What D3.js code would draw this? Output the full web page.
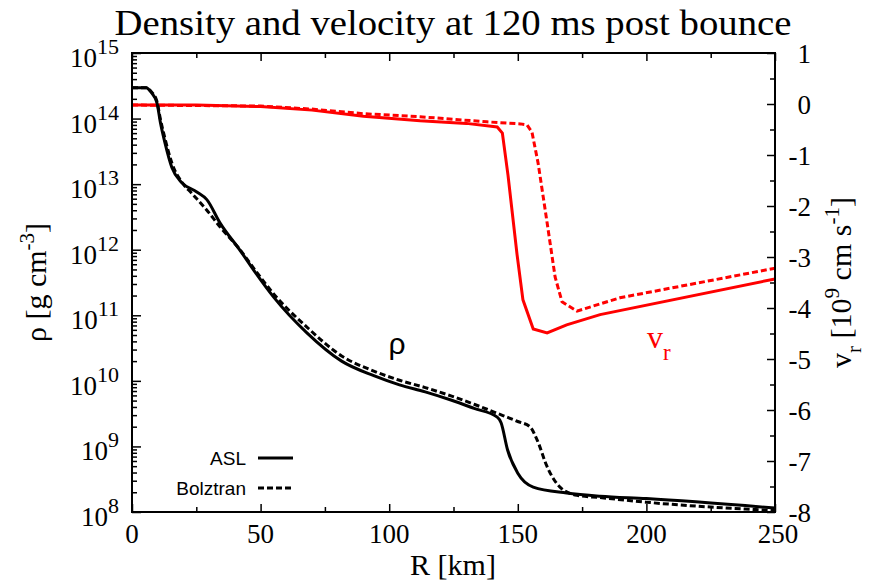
<!DOCTYPE html>
<html>
<head>
<meta charset="utf-8">
<script src="https://cdn.jsdelivr.net/npm/d3@7"></script>
<style>
  body { margin: 0; background: #fff; }
  svg { display: block; }
</style>
</head>
<body>
<div id="chart"></div>
<script>
// values
const xMajorTicks = [0, 50, 100, 150, 200, 250];
const xMinorTicks = [25, 75, 125, 175, 225];
const rhoExponents = [8, 9, 10, 11, 12, 13, 14, 15];
const velTicks = [-8, -7, -6, -5, -4, -3, -2, -1, 0, 1];

// density, ASL (solid)
const aslRhoR = [0, 5.5, 7.5, 9.7, 11, 12.8, 15.5, 19.4, 25.2, 29.1, 34.2, 42, 48, 55, 68, 81.5, 94, 104, 114, 124, 133, 142, 143.5, 146, 150, 156, 169, 182, 200, 250];
const aslRho = [2.95e14, 2.95e14, 2.5e14, 1.74e14, 8.9e13, 4.3e13, 1.8e13, 1.05e13, 7.6e12, 5.8e12, 2.57e12, 9.8e11, 4.47e11, 1.91e11, 5.4e10, 2.0e10, 1.2e10, 8.7e9, 6.8e9, 5.1e9, 3.8e9, 2.8e9, 2.3e9, 8.9e8, 3.9e8, 2.4e8, 1.95e8, 1.74e8, 1.6e8, 1.15e8];

// density, Bolztran (dashed)
const boltRhoR = [0, 5.5, 7.5, 9.7, 11, 12.8, 15.5, 19.4, 23.3, 29.1, 34.2, 42, 48, 55, 68, 81.5, 94, 104, 114, 124, 133, 142, 150, 154.7, 157.5, 161.4, 166.4, 173, 182, 200, 250];
const boltRho = [2.95e14, 2.95e14, 2.57e14, 1.82e14, 1.0e14, 5.0e13, 2.1e13, 1.07e13, 7.2e12, 4.0e12, 2.24e12, 1.0e12, 4.8e11, 2.14e11, 6.6e10, 2.4e10, 1.41e10, 1.02e10, 7.9e9, 5.9e9, 4.4e9, 3.2e9, 2.4e9, 2.0e9, 1.26e9, 4.9e8, 2.4e8, 1.8e8, 1.66e8, 1.41e8, 1.05e8];

// radial velocity [1e9 cm/s], ASL (solid)
const aslVelR = [0, 25, 50, 70, 90, 112, 130, 142, 144, 146.2, 149.7, 152, 156, 161.4, 169, 182, 250];
const aslVel = [-0.02, -0.02, -0.05, -0.12, -0.24, -0.33, -0.38, -0.45, -0.57, -1.4, -2.95, -3.84, -4.41, -4.49, -4.33, -4.13, -3.43];

// radial velocity, Bolztran (dashed)
const boltVelR = [0, 50, 70, 90, 112, 138, 151, 153.6, 155.5, 157.9, 161.4, 164.5, 167.2, 173, 189.7, 250];
const boltVel = [-0.02, -0.04, -0.10, -0.19, -0.25, -0.35, -0.39, -0.41, -0.55, -1.16, -2.33, -3.39, -3.88, -4.06, -3.8, -3.22];

const W = 869, H = 582;
const m = { left: 132, right: 94, top: 53, bottom: 70 };
const pw = W - m.left - m.right;
const ph = H - m.top - m.bottom;
const SERIF = '"Liberation Serif", "Times New Roman", serif';
const SANS = '"Liberation Sans", Arial, sans-serif';

const svg = d3.select('#chart').append('svg')
    .attr('width', W)
    .attr('height', H);

svg.append('rect').attr('width', W).attr('height', H).attr('fill', '#fff');

const x = d3.scaleLinear().domain([0, 250]).range([m.left, m.left + pw]);
const yRho = d3.scaleLog().domain([1e8, 1e15]).range([m.top + ph, m.top]);
const yVel = d3.scaleLinear().domain([-8, 1]).range([m.top + ph, m.top]);

function zip(rs, vs) { return rs.map(function (r, i) { return [r, vs[i]]; }); }

// ---- axes (ticks pointing inwards, like gnuplot) ----
function styleAxis(g) {
    g.select('.domain').remove();
    g.selectAll('line').attr('stroke', '#000').attr('stroke-width', 1.5);
}

const rhoMinor = [];
rhoExponents.slice(0, -1).forEach(function (e) {
    for (let k = 2; k <= 9; k++) rhoMinor.push(k * Math.pow(10, e));
});
const velMinor = velTicks.slice(0, -1).map(function (v) { return v + 0.5; });

svg.append('g').attr('transform', 'translate(0,' + (m.top + ph) + ')')
    .call(d3.axisBottom(x).tickValues(xMajorTicks).tickSize(-8).tickFormat('')).call(styleAxis);
svg.append('g').attr('transform', 'translate(0,' + (m.top + ph) + ')')
    .call(d3.axisBottom(x).tickValues(xMinorTicks).tickSize(-5).tickFormat('')).call(styleAxis);
svg.append('g').attr('transform', 'translate(0,' + m.top + ')')
    .call(d3.axisTop(x).tickValues(xMajorTicks).tickSize(-8).tickFormat('')).call(styleAxis);
svg.append('g').attr('transform', 'translate(0,' + m.top + ')')
    .call(d3.axisTop(x).tickValues(xMinorTicks).tickSize(-5).tickFormat('')).call(styleAxis);

svg.append('g').attr('transform', 'translate(' + m.left + ',0)')
    .call(d3.axisLeft(yRho).tickValues(rhoExponents.map(function (e) { return Math.pow(10, e); }))
        .tickSize(-9).tickFormat('')).call(styleAxis);
svg.append('g').attr('transform', 'translate(' + m.left + ',0)')
    .call(d3.axisLeft(yRho).tickValues(rhoMinor).tickSize(-5).tickFormat('')).call(styleAxis);

svg.append('g').attr('transform', 'translate(' + (m.left + pw) + ',0)')
    .call(d3.axisRight(yVel).tickValues(velTicks).tickSize(-8).tickFormat('')).call(styleAxis);
svg.append('g').attr('transform', 'translate(' + (m.left + pw) + ',0)')
    .call(d3.axisRight(yVel).tickValues(velMinor).tickSize(-5).tickFormat('')).call(styleAxis);

// tick labels
svg.append('g').selectAll('text').data(xMajorTicks).join('text')
    .attr('x', function (d) { return x(d) + (d === 250 ? 3 : 0); })
    .attr('y', m.top + ph + 31)
    .attr('text-anchor', 'middle')
    .attr('font-family', SERIF).attr('font-size', 27)
    .text(function (d) { return d; });

const rhoLab = svg.append('g').selectAll('text').data(rhoExponents).join('text')
    .attr('x', 119)
    .attr('y', function (e) { return yRho(Math.pow(10, e)) + 14; })
    .attr('text-anchor', 'end')
    .attr('font-family', SERIF).attr('font-size', 27);
rhoLab.append('tspan').text('10');
rhoLab.append('tspan').attr('dy', -13).attr('font-size', 22).text(function (e) { return e; });

svg.append('g').selectAll('text').data(velTicks).join('text')
    .attr('x', 811)
    .attr('y', function (d) { return yVel(d) + 10; })
    .attr('text-anchor', 'end')
    .attr('font-family', SERIF).attr('font-size', 27)
    .text(function (d) { return d; });

// ---- curves ----
const velLine = d3.line()
    .x(function (d) { return x(d[0]); })
    .y(function (d) { return yVel(d[1]); });
const rhoLine = d3.line()
    .x(function (d) { return x(d[0]); })
    .y(function (d) { return yRho(d[1]); })
    .curve(d3.curveMonotoneX);

const plot = svg.append('g');
plot.append('path').datum(zip(boltVelR, boltVel)).attr('d', velLine)
    .attr('fill', 'none').attr('stroke', '#ff0000').attr('stroke-width', 3).attr('stroke-dasharray', '6,3');
plot.append('path').datum(zip(aslVelR, aslVel)).attr('d', velLine)
    .attr('fill', 'none').attr('stroke', '#ff0000').attr('stroke-width', 3);
plot.append('path').datum(zip(boltRhoR, boltRho)).attr('d', rhoLine)
    .attr('fill', 'none').attr('stroke', '#000').attr('stroke-width', 3).attr('stroke-dasharray', '6,3');
plot.append('path').datum(zip(aslRhoR, aslRho)).attr('d', rhoLine)
    .attr('fill', 'none').attr('stroke', '#000').attr('stroke-width', 3);

// frame
svg.append('rect')
    .attr('x', m.left).attr('y', m.top).attr('width', pw).attr('height', ph)
    .attr('fill', 'none').attr('stroke', '#000').attr('stroke-width', 2);

// ---- in-plot labels ----
svg.append('text').attr('x', 397).attr('y', 354).attr('text-anchor', 'middle')
    .attr('font-family', SANS).attr('font-size', 30).text('ρ');
const vr = svg.append('text').attr('x', 647).attr('y', 348)
    .attr('font-family', SERIF).attr('font-size', 32).attr('fill', '#ff0000');
vr.append('tspan').text('v');
vr.append('tspan').attr('dy', 12).attr('font-size', 23).text('r');

// ---- legend ----
const legend = [
    { name: 'ASL', dash: null },
    { name: 'Bolztran', dash: '6,3' },
];
const lg = svg.append('g').selectAll('g').data(legend).join('g')
    .attr('transform', function (d, i) { return 'translate(0,' + (458 + i * 30) + ')'; });
lg.append('text').attr('x', 246).attr('y', 7).attr('text-anchor', 'end')
    .attr('font-family', SANS).attr('font-size', 19).text(function (d) { return d.name; });
lg.append('line').attr('x1', 258).attr('x2', 293).attr('y1', 0).attr('y2', 0)
    .attr('stroke', '#000').attr('stroke-width', 3)
    .attr('stroke-dasharray', function (d) { return d.dash; });

// ---- titles ----
svg.append('text').attr('x', 453).attr('y', 35).attr('text-anchor', 'middle')
    .attr('font-family', SERIF).attr('font-size', 36)
    .attr('textLength', 677).attr('lengthAdjust', 'spacingAndGlyphs')
    .text('Density and velocity at 120 ms post bounce');

svg.append('text').attr('x', 453).attr('y', 575).attr('text-anchor', 'middle')
    .attr('font-family', SERIF).attr('font-size', 30).text('R [km]');

const yl = svg.append('text').attr('transform', 'translate(46,' + (m.top + ph / 2) + ') rotate(-90)')
    .attr('text-anchor', 'middle').attr('font-family', SERIF).attr('font-size', 30);
yl.append('tspan').text('ρ [g cm');
yl.append('tspan').attr('dy', -12).attr('font-size', 21).text('-3');
yl.append('tspan').attr('dy', 12).text(']');

const yr = svg.append('text').attr('transform', 'translate(851,' + (m.top + ph / 2) + ') rotate(-90)')
    .attr('text-anchor', 'middle').attr('font-family', SERIF).attr('font-size', 30);
yr.append('tspan').text('v');
yr.append('tspan').attr('dy', 10).attr('font-size', 21).text('r');
yr.append('tspan').attr('dy', -10).text(' [10');
yr.append('tspan').attr('dy', -12).attr('font-size', 21).text('9');
yr.append('tspan').attr('dy', 12).text(' cm s');
yr.append('tspan').attr('dy', -12).attr('font-size', 21).text('-1');
yr.append('tspan').attr('dy', 12).text(']');
</script>
</body>
</html>
